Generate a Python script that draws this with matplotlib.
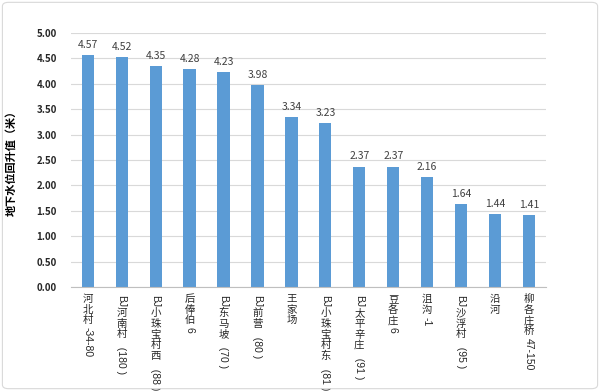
import matplotlib.pyplot as plt
from matplotlib.patches import FancyBboxPatch

plt.rcParams['font.family'] = ['Noto Sans CJK SC', 'DejaVu Sans']

sites = ["河北村-34-80", "BJ河南村（180）", "BJ小珠宝村西（88）", "后俸伯6", "BJ东马坡（70）",
         "BJ前营（80）", "王家场", "BJ小珠宝村东（81）", "BJ太平辛庄（91）", "豆各庄6",
         "沮沟-1", "BJ沙浮村（95）", "沿河", "柳各庄桥47-150"]
rise = [4.57, 4.52, 4.35, 4.28, 4.23, 3.98, 3.34, 3.23, 2.37, 2.37, 2.16, 1.64, 1.44, 1.41]
yticks = [0, 0.5, 1, 1.5, 2, 2.5, 3, 3.5, 4, 4.5, 5]


def is_upright(ch):
    # CJK ideographs stay upright, everything else is turned like Excel vertical text
    return 0x3400 <= ord(ch) <= 0x9FFF


def split_runs(text):
    runs = []
    for ch in text:
        up = is_upright(ch)
        if runs and runs[-1][1] == up and not up:
            runs[-1][0] += ch
        else:
            runs.append([ch, up])
    return runs


fig = plt.figure(figsize=(6, 3.91), dpi=100)
ax = fig.add_axes([0.118, 0.266, 0.792, 0.65])

x = range(len(sites))
ax.bar(x, rise, width=0.36, color="#5B9BD5", zorder=2)
for i, v in enumerate(rise):
    ax.text(i, v + 0.1, f"{v:.2f}", ha="center", va="bottom", fontsize=7.5, color="#404040")

ax.set_ylim(0, 5)
ax.set_xlim(-0.5, len(sites) - 0.5)
ax.set_yticks(yticks)
ax.set_yticklabels([f"{t:.2f}" for t in yticks], fontsize=7, fontweight="bold", color="#262626")
ax.set_xticks([])
ax.tick_params(axis="y", length=0, pad=10)
ax.grid(axis="y", color="#D9D9D9", linewidth=0.8, zorder=0)
for s in ["top", "right", "left"]:
    ax.spines[s].set_visible(False)
ax.spines["bottom"].set_color("#BFBFBF")
ax.set_ylabel("地下水位回升值（米）", fontsize=8, fontweight="bold", labelpad=14)

# vertical category labels
fig.canvas.draw()
renderer = fig.canvas.get_renderer()
trans = ax.get_xaxis_transform()
fs = 7.5
for i, label in enumerate(sites):
    y_off = -5
    for run, up in split_runs(label):
        if up:
            ax.annotate(run, (i, 0), xycoords=trans, xytext=(0, y_off), textcoords="offset points",
                        ha="center", va="top", fontsize=fs, color="#262626", annotation_clip=False)
            y_off -= fs * 1.02
        else:
            txt = run.replace("（", "  (").replace("）", " )")
            t = ax.annotate(txt, (i, 0), xycoords=trans, xytext=(0.3, y_off - 1), textcoords="offset points",
                            ha="left", va="center_baseline", rotation=-90, rotation_mode="anchor",
                            fontsize=fs, color="#262626", family="Liberation Sans", annotation_clip=False)
            bb = t.get_window_extent(renderer)
            y_off -= bb.height * 72 / fig.dpi + 1.5

fig.patches.append(FancyBboxPatch((0.004, 0.006), 0.992, 0.988, boxstyle="round,pad=0,rounding_size=0.01",
                                  transform=fig.transFigure, fill=False, edgecolor="#D9D9D9", linewidth=0.8))

fig.savefig("out.png", dpi=100)
